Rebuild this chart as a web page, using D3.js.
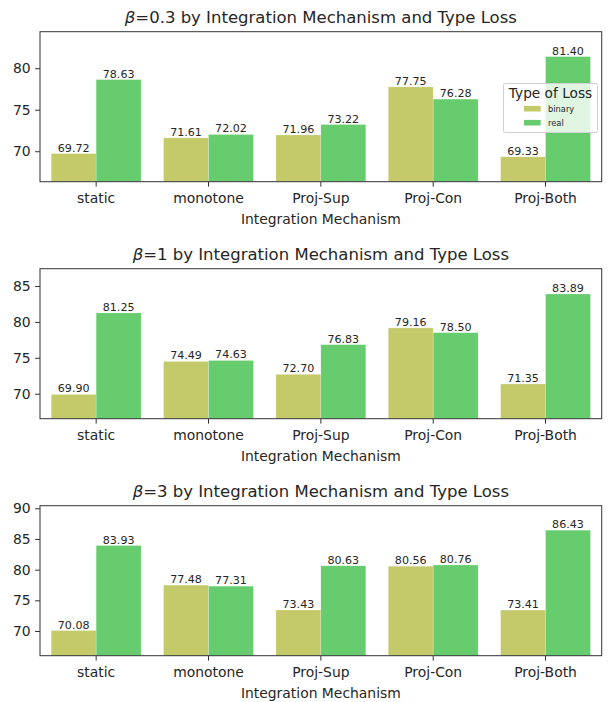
<!DOCTYPE html>
<html>
<head>
<meta charset="utf-8">
<script src="https://cdn.jsdelivr.net/npm/d3@7"></script>
<style>
  html, body { margin: 0; padding: 0; background: #fff; }
  svg { display: block; font-family: "DejaVu Sans", sans-serif; }
</style>
</head>
<body>
<svg id="chart" width="612" height="702"></svg>
<script>
// Integration mechanisms on the x axis
const categories = ["static", "monotone", "Proj-Sup", "Proj-Con", "Proj-Both"];
const lossTypes = ["binary", "real"];

// Scores per mechanism, one pair of arrays per beta setting
const binaryBeta03 = [69.72, 71.61, 71.96, 77.75, 69.33];
const realBeta03   = [78.63, 72.02, 73.22, 76.28, 81.40];
const binaryBeta1  = [69.90, 74.49, 72.70, 79.16, 71.35];
const realBeta1    = [81.25, 74.63, 76.83, 78.50, 83.89];
const binaryBeta3  = [70.08, 77.48, 73.43, 80.56, 73.41];
const realBeta3    = [83.93, 77.31, 80.63, 80.76, 86.43];

// Beta labels, y ranges and y tick labels of each panel
const betaLabels = ["0.3", "1", "3"];
const yDomains = [[66.33, 84.40], [66.52, 87.41], [65.98, 90.42]];
const yTicks = [[70, 75, 80], [70, 75, 80, 85], [70, 75, 80, 85, 90]];

const colors = { binary: "#c4c96a", real: "#66cc6e" };

const panels = [
  { binary: binaryBeta03, real: realBeta03 },
  { binary: binaryBeta1,  real: realBeta1 },
  { binary: binaryBeta3,  real: realBeta3 }
];

const svg = d3.select("#chart");
const left = 40, right = 601.7, panelH = 150, firstTop = 31.7, step = 237;
const textColor = "#262626";

const x = d3.scaleBand().domain(categories).range([left, right]).paddingInner(0.2).paddingOuter(0.1);
const xSub = d3.scaleBand().domain(lossTypes).range([0, x.bandwidth()]);

panels.forEach((p, i) => {
  const top = firstTop + i * step;
  const bottom = top + panelH;
  const y = d3.scaleLinear().domain(yDomains[i]).range([bottom, top]);
  const g = svg.append("g");

  // bars and their value labels
  lossTypes.forEach(t => {
    p[t].forEach((v, j) => {
      const bx = x(categories[j]) + xSub(t);
      g.append("rect")
        .attr("x", bx)
        .attr("y", y(v))
        .attr("width", xSub.bandwidth())
        .attr("height", y(yDomains[i][0]) - y(v))
        .attr("fill", colors[t])
        .attr("stroke", "rgba(255,255,255,0.35)")
        .attr("stroke-width", 0.6);
      g.append("text")
        .attr("x", bx + xSub.bandwidth() / 2)
        .attr("y", y(v) - 2)
        .attr("text-anchor", "middle")
        .attr("font-size", "11.1px")
        .attr("fill", textColor)
        .text(v.toFixed(2));
    });
  });

  // axes
  const yAxis = d3.axisLeft(y).tickValues(yTicks[i]).tickSize(4.9).tickPadding(4.5).tickFormat(d3.format("d"));
  const ya = g.append("g").attr("transform", `translate(${left},0)`).call(yAxis);
  const xAxis = d3.axisBottom(x).tickSize(4.9).tickPadding(6.5);
  const xa = g.append("g").attr("transform", `translate(0,${bottom})`).call(xAxis);
  [ya, xa].forEach(a => {
    a.select(".domain").remove();
    a.selectAll(".tick line").attr("stroke", "#333").attr("stroke-width", 1);
    a.selectAll(".tick text").attr("font-size", "13.9px").attr("fill", textColor)
      .attr("font-family", "DejaVu Sans, sans-serif");
  });

  // frame
  g.append("rect")
    .attr("x", left).attr("y", top)
    .attr("width", right - left).attr("height", panelH)
    .attr("fill", "none").attr("stroke", "#333").attr("stroke-width", 1);

  // x axis title
  g.append("text")
    .attr("x", (left + right) / 2)
    .attr("y", bottom + 42)
    .attr("text-anchor", "middle")
    .attr("font-size", "13.9px")
    .attr("fill", textColor)
    .text("Integration Mechanism");

  // panel title
  const title = g.append("text")
    .attr("x", (left + right) / 2)
    .attr("y", top - 9)
    .attr("text-anchor", "middle")
    .attr("font-size", "16.5px")
    .attr("fill", textColor);
  title.append("tspan").attr("font-style", "italic").text("β");
  title.append("tspan").text(`=${betaLabels[i]} by Integration Mechanism and Type Loss`);

  // legend on the first panel
  if (i === 0) {
    const lg = g.append("g");
    lg.append("rect")
      .attr("x", 503.5).attr("y", 83.5).attr("width", 94).attr("height", 49)
      .attr("rx", 2).attr("fill", "rgba(255,255,255,0.8)")
      .attr("stroke", "#d0d0d0").attr("stroke-width", 1);
    lg.append("text")
      .attr("x", 550.5).attr("y", 97.5)
      .attr("text-anchor", "middle")
      .attr("font-size", "13.7px")
      .attr("fill", textColor)
      .text("Type of Loss");
    lossTypes.forEach((t, k) => {
      const cy = 108.7 + k * 14;
      lg.append("rect").attr("x", 524).attr("y", cy - 2.8).attr("width", 16.7).attr("height", 5.6)
        .attr("fill", colors[t]);
      lg.append("text").attr("x", 548).attr("y", cy + 3)
        .attr("font-size", "8.3px").attr("fill", textColor).text(t);
    });
  }
});
</script>
</body>
</html>
